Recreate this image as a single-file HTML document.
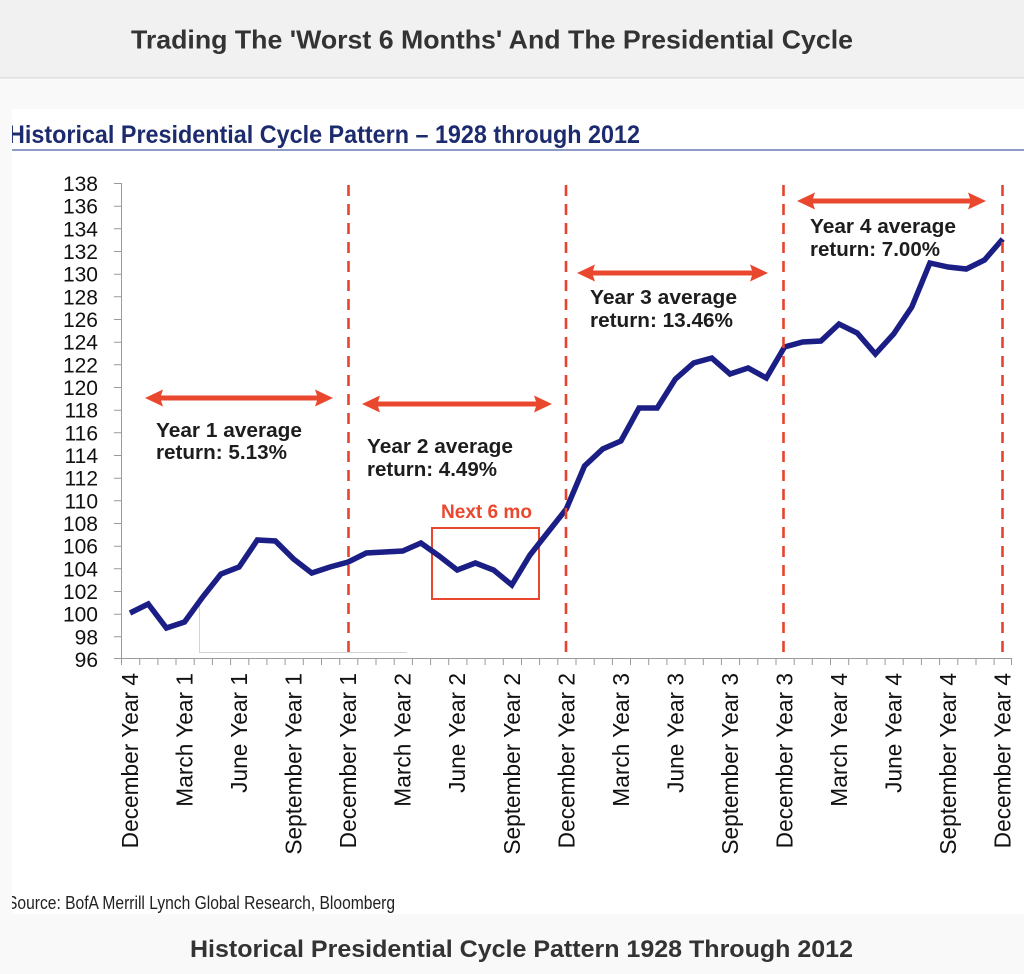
<!DOCTYPE html>
<html>
<head>
<meta charset="utf-8">
<style>
html,body{margin:0;padding:0;background:#f9f9f9;}
body{width:1024px;height:974px;overflow:hidden;}
svg{display:block;}
text{font-family:"Liberation Sans",Arial,sans-serif;}
</style>
</head>
<body>
<svg width="1024" height="974" viewBox="0 0 1024 974" xmlns="http://www.w3.org/2000/svg">
  <defs>
    <clipPath id="wclip"><rect x="12" y="109" width="1012" height="805"/></clipPath>
  </defs>
  <!-- backgrounds -->
  <rect x="0" y="0" width="1024" height="974" fill="#f9f9f9"/>
  <rect x="0" y="0" width="1024" height="77" fill="#f1f1f1"/>
  <rect x="0" y="77" width="1024" height="1.5" fill="#e0e0e0"/>
  <text x="131" y="48.5" font-size="26" font-weight="bold" fill="#333" textLength="722" lengthAdjust="spacingAndGlyphs">Trading The 'Worst 6 Months' And The Presidential Cycle</text>

  <rect x="12" y="109" width="1012" height="805" fill="#ffffff"/>

  <g clip-path="url(#wclip)">
    <text x="8" y="143" font-size="25" font-weight="bold" fill="#1c2b6e" textLength="632" lengthAdjust="spacingAndGlyphs">Historical Presidential Cycle Pattern – 1928 through 2012</text>
    <rect x="12" y="149" width="1012" height="2" fill="#8e9cc6"/>
    <text x="7" y="909" font-size="18" fill="#222" textLength="388" lengthAdjust="spacingAndGlyphs">Source: BofA Merrill Lynch Global Research, Bloomberg</text>
  </g>

  <!-- artifact gray lines -->
  <path d="M199.5 598 V652.5 H407" fill="none" stroke="#d4d4d4" stroke-width="1"/>

  <!-- axes -->
  <g stroke="#9a9a9a" stroke-width="1" fill="none">
    <line x1="121.5" y1="183" x2="121.5" y2="659"/>
    <line x1="121" y1="658.5" x2="1012" y2="658.5"/>
    <path d="M114 183.5H121 M114 206.2H121 M114 228.8H121 M114 251.5H121 M114 274.2H121 M114 296.8H121 M114 319.5H121 M114 342.2H121 M114 364.8H121 M114 387.5H121 M114 410.2H121 M114 432.8H121 M114 455.5H121 M114 478.2H121 M114 500.8H121 M114 523.5H121 M114 546.2H121 M114 568.8H121 M114 591.5H121 M114 614.2H121 M114 636.8H121 M114 658.5H121"/>
    <path id="xt" d=""/>
  </g>
  <g stroke="#9a9a9a" stroke-width="1">
    <line x1="121.5" y1="658" x2="121.5" y2="665"/><line x1="139.7" y1="658" x2="139.7" y2="665"/><line x1="157.9" y1="658" x2="157.9" y2="665"/><line x1="176.0" y1="658" x2="176.0" y2="665"/><line x1="194.2" y1="658" x2="194.2" y2="665"/><line x1="212.4" y1="658" x2="212.4" y2="665"/><line x1="230.6" y1="658" x2="230.6" y2="665"/><line x1="248.8" y1="658" x2="248.8" y2="665"/><line x1="266.9" y1="658" x2="266.9" y2="665"/><line x1="285.1" y1="658" x2="285.1" y2="665"/>
    <line x1="303.3" y1="658" x2="303.3" y2="665"/><line x1="321.5" y1="658" x2="321.5" y2="665"/><line x1="339.7" y1="658" x2="339.7" y2="665"/><line x1="357.8" y1="658" x2="357.8" y2="665"/><line x1="376.0" y1="658" x2="376.0" y2="665"/><line x1="394.2" y1="658" x2="394.2" y2="665"/><line x1="412.4" y1="658" x2="412.4" y2="665"/><line x1="430.6" y1="658" x2="430.6" y2="665"/><line x1="448.7" y1="658" x2="448.7" y2="665"/><line x1="466.9" y1="658" x2="466.9" y2="665"/>
    <line x1="485.1" y1="658" x2="485.1" y2="665"/><line x1="503.3" y1="658" x2="503.3" y2="665"/><line x1="521.5" y1="658" x2="521.5" y2="665"/><line x1="539.6" y1="658" x2="539.6" y2="665"/><line x1="557.8" y1="658" x2="557.8" y2="665"/><line x1="576.0" y1="658" x2="576.0" y2="665"/><line x1="594.2" y1="658" x2="594.2" y2="665"/><line x1="612.4" y1="658" x2="612.4" y2="665"/><line x1="630.5" y1="658" x2="630.5" y2="665"/><line x1="648.7" y1="658" x2="648.7" y2="665"/>
    <line x1="666.9" y1="658" x2="666.9" y2="665"/><line x1="685.1" y1="658" x2="685.1" y2="665"/><line x1="703.3" y1="658" x2="703.3" y2="665"/><line x1="721.4" y1="658" x2="721.4" y2="665"/><line x1="739.6" y1="658" x2="739.6" y2="665"/><line x1="757.8" y1="658" x2="757.8" y2="665"/><line x1="776.0" y1="658" x2="776.0" y2="665"/><line x1="794.2" y1="658" x2="794.2" y2="665"/><line x1="812.3" y1="658" x2="812.3" y2="665"/><line x1="830.5" y1="658" x2="830.5" y2="665"/>
    <line x1="848.7" y1="658" x2="848.7" y2="665"/><line x1="866.9" y1="658" x2="866.9" y2="665"/><line x1="885.1" y1="658" x2="885.1" y2="665"/><line x1="903.2" y1="658" x2="903.2" y2="665"/><line x1="921.4" y1="658" x2="921.4" y2="665"/><line x1="939.6" y1="658" x2="939.6" y2="665"/><line x1="957.8" y1="658" x2="957.8" y2="665"/><line x1="976.0" y1="658" x2="976.0" y2="665"/><line x1="994.1" y1="658" x2="994.1" y2="665"/><line x1="1011.5" y1="658" x2="1011.5" y2="665"/>
  </g>

  <!-- y labels -->
  <g font-size="21" fill="#111" text-anchor="end">
    <text x="98" y="191">138</text>
    <text x="98" y="213.7">136</text>
    <text x="98" y="236.3">134</text>
    <text x="98" y="259">132</text>
    <text x="98" y="281.7">130</text>
    <text x="98" y="304.3">128</text>
    <text x="98" y="327">126</text>
    <text x="98" y="349.7">124</text>
    <text x="98" y="372.3">122</text>
    <text x="98" y="395">120</text>
    <text x="98" y="417.7">118</text>
    <text x="98" y="440.3">116</text>
    <text x="98" y="463">114</text>
    <text x="98" y="485.7">112</text>
    <text x="98" y="508.3">110</text>
    <text x="98" y="531">108</text>
    <text x="98" y="553.7">106</text>
    <text x="98" y="576.3">104</text>
    <text x="98" y="599">102</text>
    <text x="98" y="621.7">100</text>
    <text x="98" y="644.3">98</text>
    <text x="98" y="667">96</text>
  </g>

  <!-- x labels -->
  <g font-size="22.7" fill="#111" text-anchor="end">
    <text transform="translate(138,673) rotate(-90)">December Year 4</text>
    <text transform="translate(192.5,673) rotate(-90)">March Year 1</text>
    <text transform="translate(247.1,673) rotate(-90)">June Year 1</text>
    <text transform="translate(301.6,673) rotate(-90)">September Year 1</text>
    <text transform="translate(356.2,673) rotate(-90)">December Year 1</text>
    <text transform="translate(410.7,673) rotate(-90)">March Year 2</text>
    <text transform="translate(465.2,673) rotate(-90)">June Year 2</text>
    <text transform="translate(519.8,673) rotate(-90)">September Year 2</text>
    <text transform="translate(574.3,673) rotate(-90)">December Year 2</text>
    <text transform="translate(628.9,673) rotate(-90)">March Year 3</text>
    <text transform="translate(683.4,673) rotate(-90)">June Year 3</text>
    <text transform="translate(738,673) rotate(-90)">September Year 3</text>
    <text transform="translate(792.5,673) rotate(-90)">December Year 3</text>
    <text transform="translate(847,673) rotate(-90)">March Year 4</text>
    <text transform="translate(901.6,673) rotate(-90)">June Year 4</text>
    <text transform="translate(956.1,673) rotate(-90)">September Year 4</text>
    <text transform="translate(1010.7,673) rotate(-90)">December Year 4</text>
  </g>

  <!-- Next 6 mo box -->
  <rect x="432" y="528" width="107" height="71" fill="none" stroke="#e9482f" stroke-width="2"/>
  <text x="441" y="518" font-size="19" font-weight="bold" fill="#e9482f" textLength="91" lengthAdjust="spacingAndGlyphs">Next 6 mo</text>

  <!-- data line -->
  <polyline fill="none" stroke="#1b1f85" stroke-width="5.5" stroke-linejoin="miter" stroke-miterlimit="3"
    points="130,613 148.2,604 166.4,628 184.5,622 202.7,597 220.9,574 239.1,567 257.3,540 275.4,541 293.6,559 311.8,573 330,567 348.2,562 366.3,553 384.5,552 402.7,551 420.9,543 439.1,556 457.2,570 475.4,563 493.6,570 511.8,585 530,555 548.1,532 566.3,509 584.5,466 602.7,449 620.9,441 639,408 657.2,408 675.4,379 693.6,363 711.8,358 730,374 748.1,368 766.3,378 784.5,347 802.7,342 820.9,341 839,324 857.2,333 875.4,354 893.6,334 911.8,307 929.9,263 948.1,267 966.3,269 984.5,260 1002.7,239"/>

  <!-- dashed verticals -->
  <g stroke="#e9432e" stroke-width="2.6" stroke-dasharray="11 8">
    <line x1="348.5" y1="185" x2="348.5" y2="660"/>
    <line x1="566" y1="185" x2="566" y2="660"/>
    <line x1="783.5" y1="185" x2="783.5" y2="660"/>
    <line x1="1002.5" y1="185" x2="1002.5" y2="660"/>
  </g>

  <!-- arrows -->
  <g fill="#e9482f">
    <polygon points="145,398 163,389.5 161,395.5 317,395.5 315,389.5 333,398 315,406.5 317,400.5 161,400.5 163,406.5"/>
    <polygon points="362,404 380,395.5 378,401.5 536,401.5 534,395.5 552,404 534,412.5 536,406.5 378,406.5 380,412.5"/>
    <polygon points="577,273 595,264.5 593,270.5 752,270.5 750,264.5 768,273 750,281.5 752,275.5 593,275.5 595,281.5"/>
    <polygon points="797,201 815,192.5 813,198.5 970,198.5 968,192.5 986,201 968,209.5 970,203.5 813,203.5 815,209.5"/>
  </g>

  <!-- annotations -->
  <g font-size="20.5" font-weight="bold" fill="#1d1d1d">
    <text x="156" y="437" textLength="146" lengthAdjust="spacingAndGlyphs">Year 1 average</text>
    <text x="156" y="459" textLength="131" lengthAdjust="spacingAndGlyphs">return: 5.13%</text>
    <text x="367" y="453" textLength="146" lengthAdjust="spacingAndGlyphs">Year 2 average</text>
    <text x="367" y="476" textLength="130" lengthAdjust="spacingAndGlyphs">return: 4.49%</text>
    <text x="590" y="304" textLength="147" lengthAdjust="spacingAndGlyphs">Year 3 average</text>
    <text x="590" y="327" textLength="143" lengthAdjust="spacingAndGlyphs">return: 13.46%</text>
    <text x="810" y="233" textLength="146" lengthAdjust="spacingAndGlyphs">Year 4 average</text>
    <text x="810" y="256" textLength="130" lengthAdjust="spacingAndGlyphs">return: 7.00%</text>
  </g>

  <!-- caption -->
  <text x="190" y="957" font-size="24" font-weight="bold" fill="#333" textLength="663" lengthAdjust="spacingAndGlyphs">Historical Presidential Cycle Pattern 1928 Through 2012</text>
</svg>
</body>
</html>
